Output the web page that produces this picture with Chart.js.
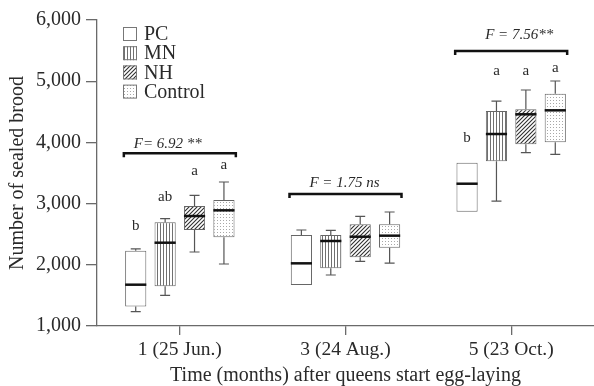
<!DOCTYPE html>
<html>
<head>
<meta charset="utf-8">
<script src="https://cdn.jsdelivr.net/npm/chart.js@4.4.0/dist/chart.umd.min.js"></script>
<style>
  html, body { margin: 0; padding: 0; background: #fff; }
</style>
</head>
<body>
<canvas id="broodChart" width="594" height="386"></canvas>
<script>
// ======================================================
// DATA — five-number summaries per month [min, q1, median, q3, max]
// ======================================================
const months = ["1 (25 Jun.)", "3 (24 Aug.)", "5 (23 Oct.)"];
const treatments = ["PC", "MN", "NH", "Control"];

const pcBox  = [[1235, 1320, 1675, 2230, 2260], [1670, 1670, 2024, 2487, 2569], [2868, 2868, 3325, 3668, 3668]];
const mnBox  = [[1501, 1648, 2361, 2694, 2753], [1833, 1943, 2389, 2487, 2563], [3042, 3691, 4137, 4513, 4676]];
const nhBox  = [[2209, 2569, 2797, 2961, 3135], [2057, 2122, 2459, 2661, 2792], [3832, 3969, 4459, 4541, 4856]];
const ctlBox = [[2013, 2449, 2890, 3059, 3353], [2029, 2279, 2476, 2661, 2863], [3805, 4002, 4524, 4796, 5003]];

// significance letters and the level (in brood units) they sit at
const pcLetters  = ["b", "", "b"];
const mnLetters  = ["ab", "", "a"];
const nhLetters  = ["a", "", "a"];
const ctlLetters = ["a", "", "a"];
const pcLetterAt  = [2630, null, 4077];
const mnLetterAt  = [3100, null, 5167];
const nhLetterAt  = [3538, null, 5167];
const ctlLetterAt = [3636, null, 5211];

// ANOVA labels per month
const fLabels   = ["F= 6.92 **", "F = 1.75 ns", "F = 7.56**"];
const fLabelAt  = [3974, 3332, 5755];
const bracketAt = [3822, 3157, 5493];

const yTicks = [1000, 2000, 3000, 4000, 5000, 6000];

const boxStats = [pcBox, mnBox, nhBox, ctlBox];
const letters  = [pcLetters, mnLetters, nhLetters, ctlLetters];
const letterAt = [pcLetterAt, mnLetterAt, nhLetterAt, ctlLetterAt];


// ======================================================
// FILL PATTERNS
// ======================================================
function makePattern(kind) {
  const c = document.createElement("canvas");
  const g = c.getContext("2d");
  const size = kind === "hatch" ? 4 : 3;
  c.width = size; c.height = size;
  g.fillStyle = "#fff";
  g.fillRect(0, 0, size, size);

  if (kind === "vert") {
    g.fillStyle = "#707070";
    g.fillRect(1, 0, 1, size);
  } else if (kind === "hatch") {
    g.strokeStyle = "#303030";
    g.lineWidth = 1.1;
    g.beginPath();
    g.moveTo(0, 4); g.lineTo(4, 0);
    g.moveTo(-1, 1); g.lineTo(1, -1);
    g.moveTo(3, 5); g.lineTo(5, 3);
    g.stroke();
  } else if (kind === "dots") {
    g.fillStyle = "#a8a8a8";
    g.fillRect(1, 1, 1, 1);
  }
  return g.createPattern(c, "repeat");
}

const fills = [makePattern("plain"), makePattern("vert"), makePattern("hatch"), makePattern("dots")];

const SERIF = "'Liberation Serif', 'DejaVu Serif', serif";
const INK = "#2a2a2a";
const AXIS = "#6a6a6a";
const fShift = [-12, -1, 8];   // small horizontal nudge of each F label


// ======================================================
// PLUGIN — whiskers, medians, letters, brackets, legend
// ======================================================
const boxExtras = {
  id: "boxExtras",
  afterDatasetsDraw(chart) {
    const ctx = chart.ctx;
    const yScale = chart.scales.y;
    const xScale = chart.scales.x;
    const area = chart.chartArea;

    ctx.save();

    chart.data.datasets.forEach((ds, i) => {
      const meta = chart.getDatasetMeta(i);
      meta.data.forEach((bar, j) => {
        const { x, width } = bar.getProps(["x", "width"], true);
        const [mn, q1, med, q3, mx] = boxStats[i][j];
        const half = width / 2;
        const yMin = yScale.getPixelForValue(mn);
        const yQ1 = yScale.getPixelForValue(q1);
        const yMed = yScale.getPixelForValue(med);
        const yQ3 = yScale.getPixelForValue(q3);
        const yMax = yScale.getPixelForValue(mx);

        // whiskers
        ctx.strokeStyle = "#555";
        ctx.lineWidth = 1.2;
        ctx.beginPath();
        if (mx > q3) {
          ctx.moveTo(x, yQ3); ctx.lineTo(x, yMax);
          ctx.moveTo(x - 5, yMax); ctx.lineTo(x + 5, yMax);
        }
        if (mn < q1) {
          ctx.moveTo(x, yQ1); ctx.lineTo(x, yMin);
          ctx.moveTo(x - 5, yMin); ctx.lineTo(x + 5, yMin);
        }
        ctx.stroke();

        // median
        ctx.strokeStyle = "#111";
        ctx.lineWidth = 2.5;
        ctx.beginPath();
        ctx.moveTo(x - half, yMed);
        ctx.lineTo(x + half, yMed);
        ctx.stroke();

        // letter
        const txt = letters[i][j];
        if (txt) {
          ctx.fillStyle = INK;
          ctx.font = "15px " + SERIF;
          ctx.textAlign = "center";
          ctx.textBaseline = "middle";
          ctx.fillText(txt, x, yScale.getPixelForValue(letterAt[i][j]));
        }
      });
    });

    // brackets + F labels
    months.forEach((m, j) => {
      const cx = xScale.getPixelForValue(j);
      const yb = yScale.getPixelForValue(bracketAt[j]);
      ctx.strokeStyle = "#111";
      ctx.lineWidth = 2.5;
      ctx.lineJoin = "miter";
      ctx.beginPath();
      ctx.moveTo(cx - 56, yb + 4);
      ctx.lineTo(cx - 56, yb);
      ctx.lineTo(cx + 56, yb);
      ctx.lineTo(cx + 56, yb + 4);
      ctx.stroke();

      ctx.fillStyle = INK;
      ctx.font = "italic 15px " + SERIF;
      ctx.textAlign = "center";
      ctx.textBaseline = "middle";
      ctx.fillText(fLabels[j], cx + fShift[j], yScale.getPixelForValue(fLabelAt[j]));
    });

    // legend
    const lx = area.left + 26;
    const ly = area.top + 7;
    chart.data.datasets.forEach((ds, i) => {
      const top = ly + i * 19.2;
      ctx.fillStyle = ds.backgroundColor;
      ctx.fillRect(lx, top, 14, 14);
      ctx.strokeStyle = "#777";
      ctx.lineWidth = 1;
      ctx.strokeRect(lx + 0.5, top + 0.5, 13, 13);

      ctx.fillStyle = INK;
      ctx.font = "20px " + SERIF;
      ctx.textAlign = "left";
      ctx.textBaseline = "middle";
      ctx.fillText(ds.label, lx + 21, top + 8);
    });

    ctx.restore();
  }
};


// ======================================================
// CHART
// ======================================================
const ctx = document.getElementById("broodChart").getContext("2d");

new Chart(ctx, {
  type: "bar",
  data: {
    labels: months,
    datasets: treatments.map((name, i) => ({
      label: name,
      data: boxStats[i].map(s => [s[1], s[3]]),
      backgroundColor: fills[i],
      borderColor: "#666",
      borderWidth: 1,
      borderSkipped: false,
      categoryPercentage: 0.71,
      barPercentage: 0.72
    }))
  },
  options: {
    responsive: false,
    animation: false,
    layout: { padding: { top: 20, right: 0, bottom: 0, left: 0 } },
    scales: {
      x: {
        type: "category",
        grid: { drawOnChartArea: false, offset: false, tickLength: 9, color: AXIS, lineWidth: 1.3 },
        border: { color: AXIS, width: 1.3 },
        ticks: { color: INK, padding: 3, maxRotation: 0, font: { family: SERIF, size: 19.5 } },
        title: {
          display: true,
          text: "Time (months) after queens start egg-laying",
          color: INK,
          font: { family: SERIF, size: 20, lineHeight: 1 },
          padding: { top: 0, bottom: 0 }
        },
        afterFit: scale => { scale.height = 60; }
      },
      y: {
        min: 1000,
        max: 6000,
        afterBuildTicks: scale => { scale.ticks = yTicks.map(v => ({ value: v })); },
        grid: { drawOnChartArea: false, tickLength: 11, color: AXIS, lineWidth: 1.3 },
        border: { color: AXIS, width: 1.3 },
        ticks: {
          color: INK,
          padding: 5,
          font: { family: SERIF, size: 20 },
          callback: v => v.toLocaleString("en-US")
        },
        title: {
          display: true,
          text: "Number of sealed brood",
          color: INK,
          font: { family: SERIF, size: 20, lineHeight: 1.2 },
          padding: { top: 6, bottom: 0 }
        },
        afterFit: scale => { scale.width = 97; }
      }
    },
    plugins: {
      legend: { display: false },
      tooltip: { enabled: false }
    }
  },
  plugins: [boxExtras]
});
</script>
</body>
</html>
